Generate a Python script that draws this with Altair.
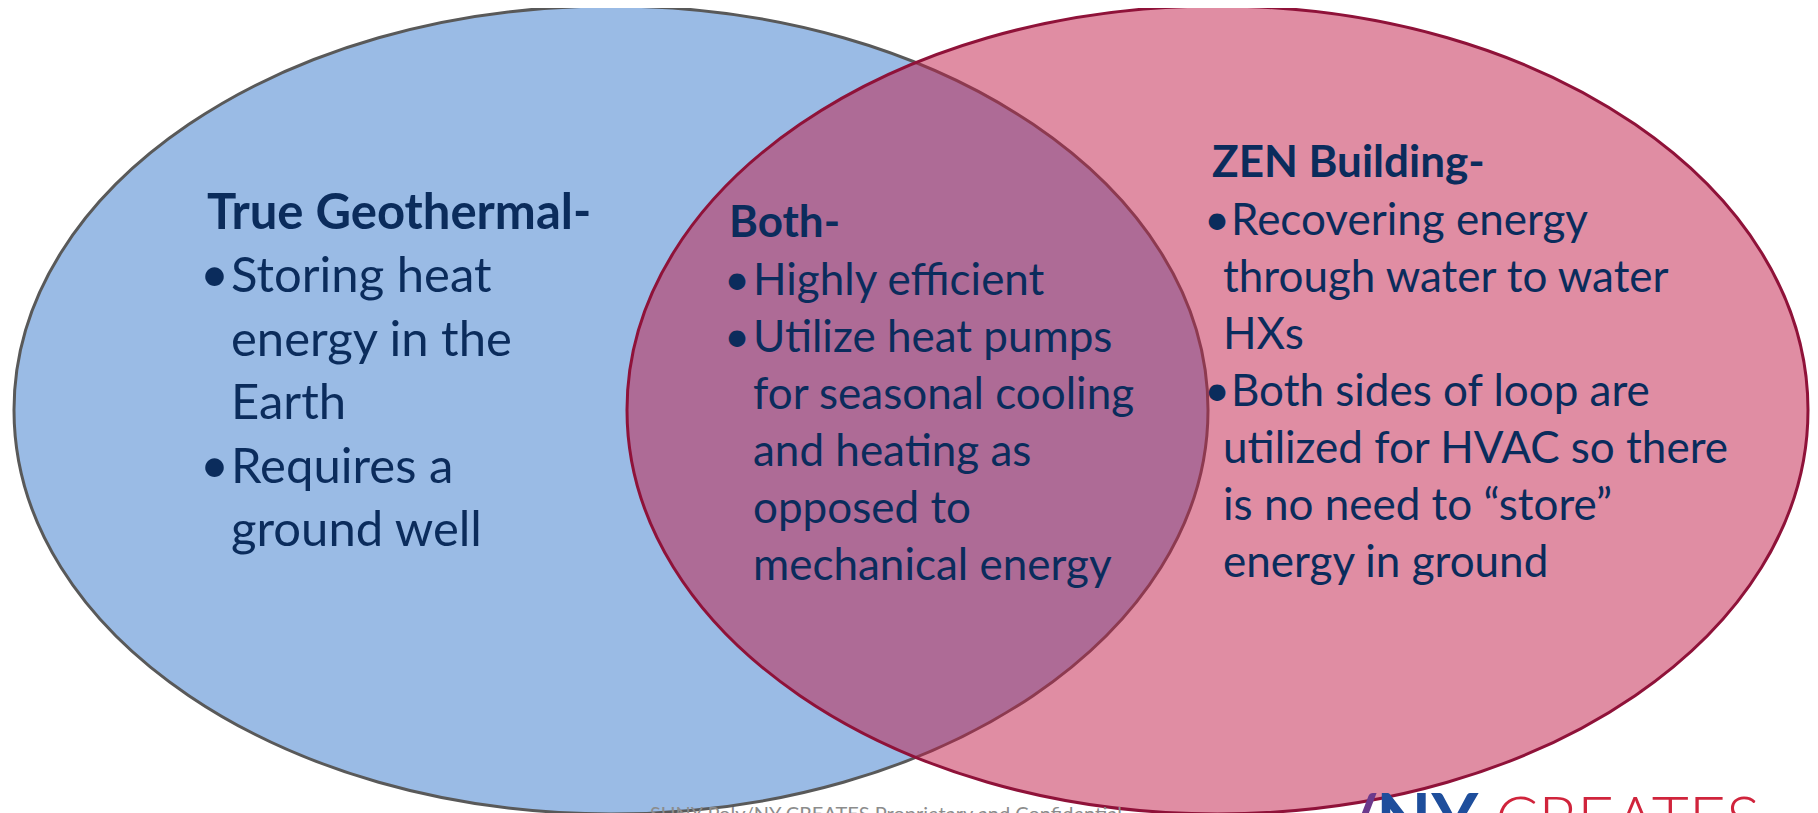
import altair as alt
import pandas as pd

# ---------------- content ----------------
set_names = ["True Geothermal", "ZEN Building"]
set_cx = [611, 1217.5]
set_cy = [410, 410]
set_rx = [597, 590.5]
set_ry = [404, 404]

left_title = "True Geothermal-"
left_bullets = [["Storing heat", "energy in the", "Earth"],
                ["Requires a", "ground well"]]
mid_title = "Both-"
mid_bullets = [["Highly efficient"],
               ["Utilize heat pumps", "for seasonal cooling", "and heating as",
                "opposed to", "mechanical energy"]]
right_title = "ZEN Building-"
right_bullets = [["Recovering energy", "through water to water", "HXs"],
                 ["Both sides of loop are", "utilized for HVAC so there",
                  "is no need to \u201cstore\u201d", "energy in ground"]]
footer_text = "SUNY Poly/NY CREATES Proprietary and Confidential"
logo_parts = ["/", "NY", "CREATES"]

# ---------------- layout ----------------
W, H = 1802, 812
X0, Y0 = 8, 8
xs = alt.Scale(domain=[X0, X0 + W], nice=False, zero=False)
ys = alt.Scale(domain=[Y0, Y0 + H], nice=False, zero=False, reverse=True)
NAVY = "#0B2C5C"
FONT = "Lato"


def enc():
    return dict(x=alt.X("x:Q", scale=xs, axis=None),
                y=alt.Y("y:Q", scale=ys, axis=None))


def ellipse_layer(i, fill, fill_opacity, stroke):
    rx, ry = set_rx[i], set_ry[i]
    k = ry / rx
    path = f"M -1 0 A 1 {k:.5f} 0 1 1 1 0 A 1 {k:.5f} 0 1 1 -1 0 Z"
    df = pd.DataFrame({"name": [set_names[i]], "x": [set_cx[i]], "y": [set_cy[i]]})
    return alt.Chart(df).mark_point(
        shape=path, filled=True, fill=fill, fillOpacity=fill_opacity,
        stroke=stroke, strokeWidth=3, strokeOpacity=1, opacity=1,
        size=(2 * rx) ** 2,
    ).encode(**enc())


def text_block(title, bullets, title_pos, bullet_right, text_x, cont_x,
               first_y, step, size):
    tdf = pd.DataFrame({"x": [title_pos[0]], "y": [title_pos[1]], "text": [title]})
    rows, brows = [], []
    y = first_y
    for item in bullets:
        brows.append({"x": bullet_right, "y": y, "text": "\u2022"})
        for j, line in enumerate(item):
            rows.append({"x": text_x if j == 0 else cont_x, "y": y, "text": line})
            y += step
    t = alt.Chart(tdf).mark_text(align="left", baseline="alphabetic", font=FONT,
                                 fontSize=size, fontWeight="bold", color=NAVY
                                 ).encode(text="text:N", **enc())
    b = alt.Chart(pd.DataFrame(rows)).mark_text(
        align="left", baseline="alphabetic", font=FONT, fontSize=size, color=NAVY
    ).encode(text="text:N", **enc())
    d = alt.Chart(pd.DataFrame(brows)).mark_text(
        align="right", baseline="alphabetic", font=FONT, fontSize=size * 1.02, color=NAVY
    ).encode(text="text:N", **enc())
    return [t, b, d]


layers = [
    ellipse_layer(0, "#9ABBE5", 1.0, "#595959"),
    ellipse_layer(1, "#C11B47", 0.5, "#8F1239"),
]
layers += text_block(left_title, left_bullets, (207, 229), 229, 231, 231, 292, 63.6, 49)
layers += text_block(mid_title, mid_bullets, (729, 237), 750, 753, 753, 295, 57, 44)
layers += text_block(right_title, right_bullets, (1212, 177), 1230, 1231, 1223, 235, 57, 44)

# footer + logo
fdf = pd.DataFrame({"x": [886], "y": [821], "text": [footer_text]})
layers.append(alt.Chart(fdf).mark_text(align="center", baseline="alphabetic", font=FONT,
                                       fontSize=20, color="#8C8C8C"
                                       ).encode(text="text:N", **enc()))
logo_x = [1346, 1376, 1495]
logo_y = [846, 846, 842]
logo_size = [70, 72, 64]
logo_col = ["#6B3A8C", "#1E4E9C", "#D0243C"]
logo_w = ["bold", "bold", 300]
for i, part in enumerate(logo_parts):
    ldf = pd.DataFrame({"x": [logo_x[i]], "y": [logo_y[i]], "text": [part]})
    layers.append(alt.Chart(ldf).mark_text(align="left", baseline="alphabetic", font=FONT,
                                           fontSize=logo_size[i], fontWeight=logo_w[i],
                                           color=logo_col[i]
                                           ).encode(text="text:N", **enc()))

chart = alt.layer(*layers).properties(
    width=W, height=H,
    autosize=alt.AutoSizeParams(type="none"),
    padding=0,
    background="white",
).configure_view(stroke=None)

chart.save("out.html", embed_options={"renderer": "svg", "actions": False})
